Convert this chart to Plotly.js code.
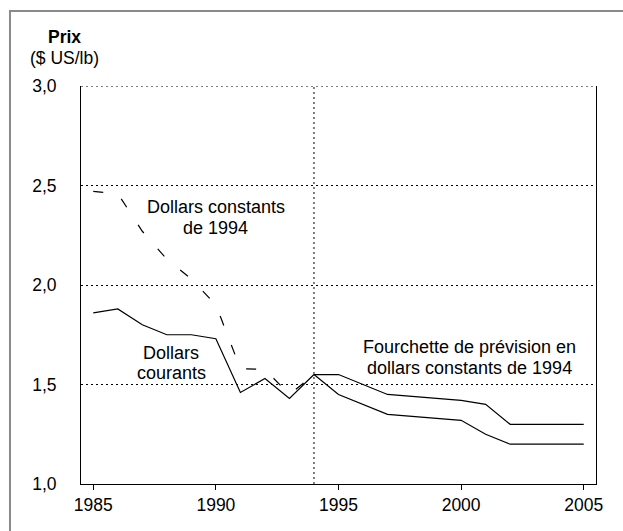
<!DOCTYPE html>
<html><head><meta charset="utf-8">
<script src="https://cdn.plot.ly/plotly-3.0.1.min.js"></script>
<style>html,body{margin:0;padding:0;background:#fff}#chart{width:623px;height:531px}</style>
</head><body><div id="chart"></div>
<script>
// ---- data ----
const years = [1985, 1986, 1987, 1988, 1989, 1990, 1991, 1992, 1993, 1994];
const currentDollars = [1.86, 1.88, 1.80, 1.75, 1.75, 1.73, 1.46, 1.53, 1.43, 1.55];
const constantDollars = [2.47, 2.46, 2.27, 2.13, 2.03, 1.90, 1.58, 1.575, 1.45, 1.55];
const forecastYears = [1994, 1995, 1997, 2000, 2001, 2002, 2005];
const forecastHigh = [1.55, 1.55, 1.45, 1.42, 1.40, 1.30, 1.30];
const forecastLow  = [1.55, 1.45, 1.35, 1.32, 1.25, 1.20, 1.20];
const xTickVals = [1985, 1990, 1995, 2000, 2005];
const xTickText = ['1985', '1990', '1995', '2000', '2005'];
const yTickVals = [1.0, 1.5, 2.0, 2.5, 3.0];
const yTickText = ['1,0', '1,5', '2,0', '2,5', '3,0'];
const forecastStart = 1994;
const yTop = 3.0;

const FONT = 'Liberation Sans, Arial, Helvetica, sans-serif';
const FS = 17.5;
const AFS = 18;
const line = {color: '#000', width: 1.2};
const dotted = {color: '#000', width: 1, dash: '2px,3px'};

const traces = [
  {x: years, y: constantDollars, type: 'scatter', mode: 'lines', name: 'Dollars constants de 1994',
   line: {color: '#000', width: 1.2, dash: '10px,21px'}},
  {x: years, y: currentDollars, type: 'scatter', mode: 'lines', name: 'Dollars courants', line: line},
  {x: forecastYears, y: forecastHigh, type: 'scatter', mode: 'lines', name: 'Prévision haute', line: line},
  {x: forecastYears, y: forecastLow, type: 'scatter', mode: 'lines', name: 'Prévision basse', line: line}
];

const txt = (text, x, y) => ({text: text, x: x, y: y, xref: 'x', yref: 'y',
  showarrow: false, xanchor: 'center', yanchor: 'middle', font: {family: FONT, size: AFS, color: '#000'}});

const layout = {
  width: 623, height: 531,
  margin: {l: 81, r: 27, t: 86, b: 47, pad: 0},
  paper_bgcolor: '#fff', plot_bgcolor: '#fff',
  showlegend: false,
  font: {family: FONT, size: FS, color: '#000'},
  xaxis: {
    range: [1984.5, 2005.5], tickvals: xTickVals, ticktext: xTickText,
    ticks: 'outside', ticklen: 5, tickwidth: 1, tickcolor: '#000',
    showline: true, linecolor: '#000', linewidth: 1, mirror: false,
    showgrid: false, zeroline: false, tickfont: {family: FONT, size: FS, color: '#000'}
  },
  xaxis2: {
    overlaying: 'x', anchor: 'y', range: [1984.5, 2005.5], tick0: 1985, dtick: 1,
    ticks: 'inside', ticklen: 5, tickwidth: 1, tickcolor: '#000',
    showticklabels: false, showline: false, showgrid: false, zeroline: false
  },
  yaxis: {
    range: [1, 3], tickvals: yTickVals, ticktext: yTickText, ticks: '',
    ticklabelstandoff: 20,
    showline: true, mirror: true, linecolor: '#000', linewidth: 1,
    showgrid: true, gridcolor: '#000', gridwidth: 1, griddash: '2px,3px',
    zeroline: false, tickfont: {family: FONT, size: FS, color: '#000'}
  },
  shapes: [
    {type: 'line', xref: 'x', yref: 'paper', x0: forecastStart, x1: forecastStart, y0: 0, y1: 1, line: dotted},
    {type: 'line', xref: 'paper', yref: 'y', x0: 0, x1: 1, y0: yTop, y1: yTop, line: dotted},
    {type: 'rect', xref: 'paper', yref: 'paper', x0: -0.1379, x1: 1.3, y0: -0.3, y1: 1.1884,
     line: {color: '#8a8a8a', width: 2}, layer: 'below'}
  ],
  annotations: [
    {text: '<b>Prix</b>', xref: 'paper', yref: 'paper', x: -0.033, y: 1.1225, showarrow: false,
     xanchor: 'center', yanchor: 'middle', font: {family: FONT, size: FS, color: '#000'}},
    {text: '($ US/lb)', xref: 'paper', yref: 'paper', x: -0.033, y: 1.0716, showarrow: false,
     xanchor: 'center', yanchor: 'middle', font: {family: FONT, size: FS, color: '#000'}},
    txt('Dollars constants', 1990.0, 2.392),
    txt('de 1994', 1990.0, 2.288),
    txt('Dollars', 1988.18, 1.66),
    txt('courants', 1988.18, 1.556),
    txt('Fourchette de prévision en', 2000.33, 1.686),
    txt('dollars constants de 1994', 2000.33, 1.582)
  ]
};

Plotly.newPlot('chart', traces, layout, {staticPlot: true, displayModeBar: false});
</script>
</body></html>
